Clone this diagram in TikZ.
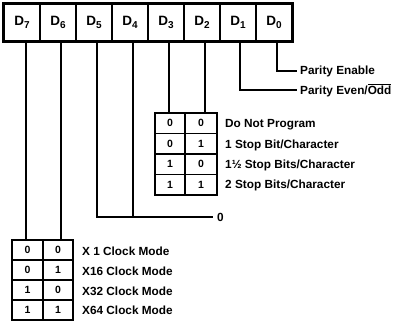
\documentclass[tikz,border=0pt]{standalone}
\usepackage{fontspec}
\setmainfont{Liberation Sans}
\begin{document}
\begin{tikzpicture}[x=1pt,y=-1pt,
  reg/.style={draw,line width=1.8pt,minimum width=36pt,minimum height=37pt,inner sep=0pt,font=\fontsize{13.5}{13.5}\selectfont\bfseries},
  tcell/.style={draw,line width=1.2pt,inner sep=0pt,font=\fontsize{10.5}{11}\selectfont\bfseries},
  lbl/.style={anchor=west,inner sep=0pt,font=\fontsize{11.8}{12}\selectfont\bfseries},
  conn/.style={line width=1.1pt}]
\useasboundingbox (0,0) rectangle (396,323);
\newcommand{\dlab}[1]{D\raisebox{-3pt}{\fontsize{10}{10}\selectfont #1}}
\foreach \i in {7,...,0}{
  \node[reg] (d\i) at ({22+36*(7-\i)},22.5) {\dlab{\i}};
}
\draw[line width=2.2pt] (d7.north west) rectangle (d0.south east);
% stop-bit table
\foreach \r/\a/\b in {1/0/0,2/0/1,3/1/0,4/1/1}{
  \node[tcell,minimum width=30pt,minimum height=20.5pt] (s\r a) at (170,{102.75+20.5*\r}) {\a};
  \node[tcell,minimum width=32pt,minimum height=20.5pt] (s\r b) at (201,{102.75+20.5*\r}) {\b};
}
% clock table
\foreach \r/\a/\b in {1/0/0,2/0/1,3/1/0,4/1/1}{
  \node[tcell,minimum width=31pt,minimum height=20pt] (c\r a) at (27.5,{230+20*\r}) {\a};
  \node[tcell,minimum width=30pt,minimum height=20pt] (c\r b) at (58,{230+20*\r}) {\b};
}
% labels
\node[lbl] (pe) at (300,71) {Parity Enable};
\node[lbl] (po) at (300,90) {Parity Even/$\overline{\mbox{Odd}}$};
\node[lbl] (s1) at (225,125) {Do Not Program};
\node[lbl] (s2) at (225,145) {1 Stop Bit/Character};
\node[lbl] (s3) at (225,165) {1½ Stop Bits/Character};
\node[lbl] (s4) at (225,185) {2 Stop Bits/Character};
\node[lbl] (zero) at (217,217) {0};
\node[lbl] (k1) at (82,251) {X 1 Clock Mode};
\node[lbl] (k2) at (82,271) {X16 Clock Mode};
\node[lbl] (k3) at (82,291) {X32 Clock Mode};
\node[lbl] (k4) at (82,310) {X64 Clock Mode};
% connectors
\draw[conn] ([xshift=3pt]d0.south) |- ([xshift=-3pt]pe.west);
\draw[conn] ([xshift=2pt]d1.south) |- ([xshift=-3pt]po.west);
\draw[conn] ([xshift=3pt]d2.south) -- ([xshift=3pt]d2.south |- s1b.north);
\draw[conn] ([xshift=3pt]d3.south) -- ([xshift=3pt]d3.south |- s1a.north);
\draw[conn] ([xshift=3pt]d5.south) |- ([xshift=-4pt]zero.west);
\draw[conn] ([xshift=3pt]d4.south) -- ([xshift=3pt]d4.south |- zero.west);
\draw[conn] ([xshift=4pt]d7.south) -- ([xshift=4pt]d7.south |- c1a.north);
\draw[conn] ([xshift=3pt]d6.south) -- ([xshift=3pt]d6.south |- c1b.north);
\end{tikzpicture}
\end{document}
